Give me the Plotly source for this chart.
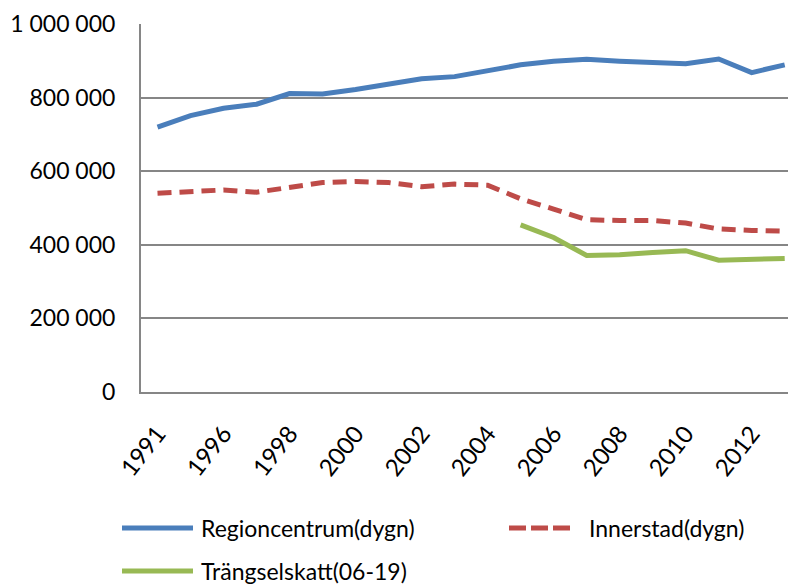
import plotly.graph_objects as go

# Category labels on the x axis (1991, then 1995-2013)
years = ["1991"] + [str(y) for y in range(1995, 2014)]

regioncentrum = [720000, 751000, 771000, 782000, 811000, 810000, 822000, 835000,
                 851000, 857000, 872000, 889000, 899000, 904000, 899000, 894000,
                 892000, 905000, 868000, 889000]
innerstad = [540000, 545000, 549000, 543000, 557000, 569000, 572000, 569000,
             558000, 565000, 562000, 525000, 497000, 468000, 466000, 466000,
             459000, 443000, 439000, 437000]
trangselskatt = [None] * 11 + [454000, 420000, 371000, 373000, 379000, 384000,
                               358000, 359000, 363000]

series_names = ["Regioncentrum(dygn)", "Innerstad(dygn)", "Trängselskatt(06-19)"]
colors = ["#4A7EBB", "#BE4B48", "#98B954"]

y_tickvals = [0, 200000, 400000, 600000, 800000, 1000000]
y_ticktext = ["0", "200 000", "400 000", "600 000", "800 000", "1 000 000"]
x_tickvals = [years[0]] + years[2::2]

FONT = "Lato"

fig = go.Figure()
fig.add_trace(go.Scatter(x=years, y=regioncentrum, mode="lines", name=series_names[0],
                         line=dict(color=colors[0], width=5)))
fig.add_trace(go.Scatter(x=years, y=innerstad, mode="lines", name=series_names[1],
                         line=dict(color=colors[1], width=5, dash="14px,8px")))
fig.add_trace(go.Scatter(x=years, y=trangselskatt, mode="lines", name=series_names[2],
                         line=dict(color=colors[2], width=5)))

fig.update_layout(
    width=788, height=587,
    margin=dict(l=141, r=0, t=24, b=195),
    paper_bgcolor="white", plot_bgcolor="white",
    showlegend=False,
    font=dict(family=FONT, size=23, color="#000000"),
)
fig.update_xaxes(
    type="category", categoryorder="array", categoryarray=years,
    range=[-0.5, 19.1],
    tickmode="array", tickvals=x_tickvals, ticktext=x_tickvals,
    tickangle=-52, tickfont=dict(size=24),
    showgrid=False, zeroline=False,
    showline=True, linecolor="#868686", linewidth=2,
    ticks="", ticklabelstandoff=16,
)
fig.update_yaxes(
    range=[0, 1000000], tickmode="array", tickvals=y_tickvals, ticktext=y_ticktext,
    showgrid=True, gridcolor="#868686", gridwidth=1.5, zeroline=False,
    showline=True, linecolor="#868686", linewidth=2,
    ticks="", ticklabelstandoff=19,
)

# Legend drawn below the plot: swatch + label per series
legend_items = [
    (series_names[0], colors[0], "solid", 122, 193, 528, 199),
    (series_names[1], colors[1], "17px,5px", 509, 572, 528, 587),
    (series_names[2], colors[2], "solid", 122, 193, 571, 199),
]
for name, color, dash, x0, x1, yc, xt in legend_items:
    fig.add_shape(type="line", xref="paper", yref="paper",
                  x0=(x0 - 141) / 647, x1=(x1 - 141) / 647,
                  y0=(392 - yc) / 368, y1=(392 - yc) / 368,
                  line=dict(color=color, width=5, dash=dash))
    fig.add_annotation(text=name, xref="paper", yref="paper",
                       x=(xt - 141) / 647, y=(392 - yc) / 368,
                       xanchor="left", yanchor="middle", showarrow=False,
                       font=dict(family=FONT, size=23, color="#000000"))

fig.write_html("out.html")
